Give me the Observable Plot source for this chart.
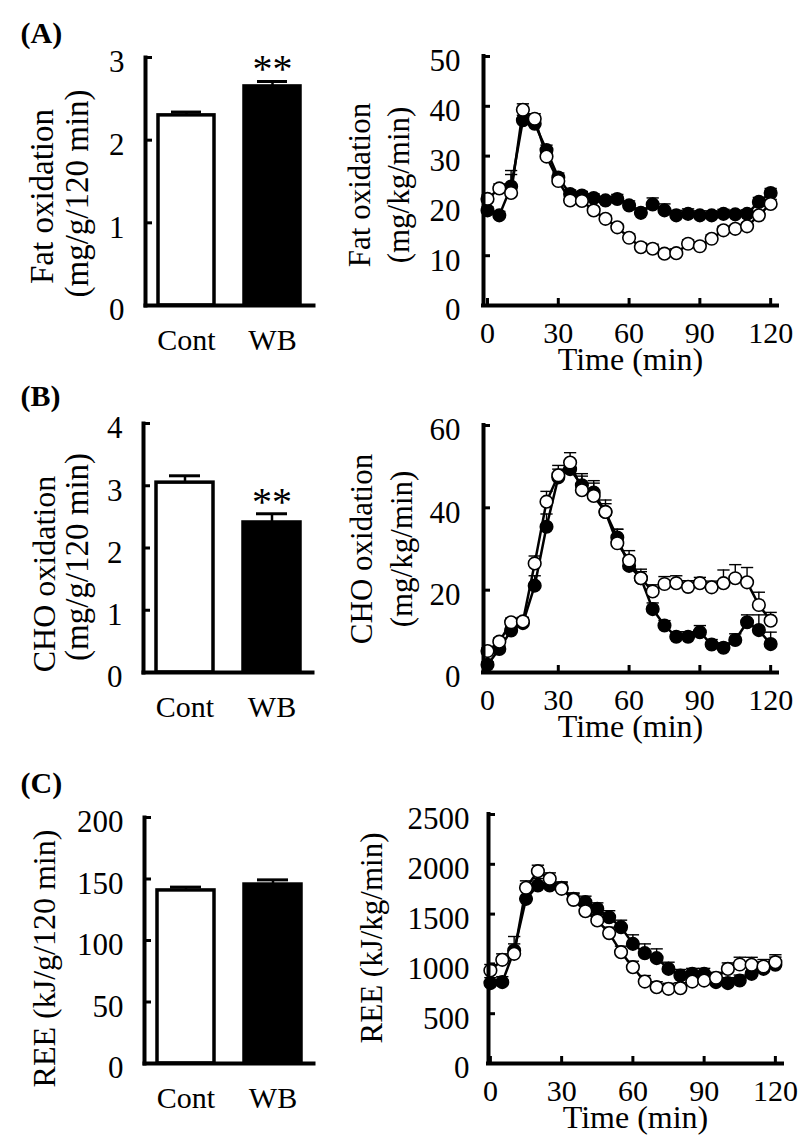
<!DOCTYPE html>
<html><head><meta charset="utf-8">
<script src="https://cdn.jsdelivr.net/npm/d3@7"></script>
<script src="https://cdn.jsdelivr.net/npm/@observablehq/plot@0.6"></script>
<style>
body{margin:0;background:#fff;}
#root{position:relative;width:800px;height:1143px;background:#fff;overflow:hidden;}
.cell{position:absolute;}
.cell svg{overflow:visible;}
</style></head><body><div id="root"></div>
<script>
// ---------- data ----------
const groups = ["Cont", "WB"];
const fatTotal = [2.30, 2.65];
const fatTotalSem = [0.04, 0.06];
const choTotal = [3.05, 2.41];
const choTotalSem = [0.11, 0.14];
const reeTotal = [140.7, 145.5];
const reeTotalSem = [2.7, 3.8];

const time = [0,5,10,15,20,25,30,35,40,45,50,55,60,65,70,75,80,85,90,95,100,105,110,115,120];
const timeTicks = [0, 30, 60, 90, 120];

const fatCont = [21.4,23.5,22.6,39.3,37.5,29.9,25.0,21.1,21.0,19.1,17.4,15.7,13.6,11.7,11.4,10.4,10.5,12.4,11.9,13.4,15.1,15.4,15.9,18.1,20.4];
const fatContSem = [0.8,0.9,3.7,1.2,1.0,0.9,0.8,0.7,0.7,0.7,0.7,0.7,0.8,0.8,0.9,0.9,0.9,0.8,0.8,0.8,0.8,0.7,0.7,0.8,0.9];
const fatWB = [19.1,18.1,23.9,37.2,36.5,31.2,25.7,22.4,22.1,21.6,21.1,21.4,20.1,18.6,20.3,19.1,18.1,18.4,18.1,18.1,18.4,18.3,18.4,20.8,22.6];
const fatWBSem = [0.7,0.8,3.2,1.0,1.0,1.0,0.9,0.8,0.8,0.8,0.8,0.9,0.9,1.0,1.3,1.3,1.0,1.0,0.9,0.9,0.9,0.8,0.8,0.9,0.9];

const choCont = [5.2,7.5,12.2,12.4,26.5,41.5,47.9,51.0,44.3,42.9,39.0,31.4,27.2,22.9,19.7,21.5,21.7,20.8,21.7,20.7,21.7,22.9,21.9,16.4,12.6];
const choContSem = [0.8,0.9,1.0,1.0,1.8,2.5,2.4,2.4,4.0,3.7,2.9,3.4,2.4,2.2,1.6,1.8,1.8,1.5,1.4,1.5,3.2,3.3,3.6,3.1,2.0];
const choWB = [1.9,5.7,10.2,12.0,21.1,35.4,47.4,49.4,45.5,43.7,39.0,32.8,25.9,22.9,15.4,11.4,8.7,8.7,9.8,6.8,6.0,7.9,12.2,10.3,6.9];
const choWBSem = [0.7,0.8,1.0,1.0,2.4,3.1,2.0,2.0,2.2,2.3,2.0,2.0,1.8,1.6,1.5,1.2,1.2,1.2,1.6,1.2,1.2,1.5,1.8,3.7,2.9];

const reeCont = [934,1041,1101,1764,1931,1854,1754,1643,1529,1436,1309,1118,967,823,766,750,756,823,833,860,950,994,991,974,1017];
const reeContSem = [60,60,100,70,60,60,60,60,60,60,60,60,60,60,55,55,55,55,55,55,60,73,75,70,75];
const reeWB = [807,817,1134,1653,1787,1787,1764,1653,1620,1553,1469,1369,1201,1108,1058,950,884,900,900,817,807,833,900,950,991];
const reeWBSem = [55,55,141,150,70,60,60,60,60,60,65,70,91,93,93,67,60,55,55,55,55,55,60,70,77];

const fatTotalTicks = [0, 1, 2, 3];
const choTotalTicks = [0, 1, 2, 3, 4];
const reeTotalTicks = [0, 50, 100, 150, 200];
const fatRateTicks = [0, 10, 20, 30, 40, 50];
const choRateTicks = [0, 20, 40, 60];
const reeRateTicks = [0, 500, 1000, 1500, 2000, 2500];

// ---------- helpers ----------
const FONT = '"Liberation Serif", "Times New Roman", serif';
const fmt = d => String(d);
const root = document.getElementById("root");
function place(svg, left, top) {
  const d = document.createElement("div");
  d.className = "cell";
  d.style.left = left + "px";
  d.style.top = top + "px";
  d.appendChild(svg);
  root.appendChild(d);
}
function vLabel(l) {
  return Plot.text([l.text], {frameAnchor: "left", rotate: -90, dx: l.dx, dy: l.dy, fontSize: l.size, textAnchor: "middle", lineAnchor: "middle"});
}

function barPlot(c) {
  const data = groups.map((g, i) => ({g, v: c.values[i], e: c.sems[i]}));
  const marks = [
    Plot.ruleX(data, {x: "g", y1: "v", y2: d => d.v + d.e, strokeWidth: 2.5}),
    Plot.tickY(data, {x: "g", y: d => d.v + d.e, strokeWidth: 3, insetLeft: 13, insetRight: 13}),
    Plot.barY([data[0]], {x: "g", y: "v", fill: "white", stroke: "black", strokeWidth: 3.5}),
    Plot.barY([data[1]], {x: "g", y: "v", fill: "black", stroke: "black", strokeWidth: 3.5}),
    Plot.frame({anchor: "left", strokeWidth: 4, strokeLinecap: "square"}),
    Plot.frame({anchor: "bottom", strokeWidth: 4, strokeLinecap: "square"}),
    Plot.axisY({ticks: c.ticks, tickSize: -7, fill: "none", strokeWidth: 3, label: null}),
    Plot.axisY({ticks: c.ticks, tickFormat: fmt, tickSize: 0, tickPadding: 21, dy: 5, label: null, fontSize: 31}),
    Plot.axisX({tickSize: 0, tickPadding: 23, label: null, fontSize: 30}),
    Plot.text([c.letter], {frameAnchor: "top-left", dx: c.letterDx, dy: c.letterDy, textAnchor: "start", lineAnchor: "middle", fontWeight: "bold", fontSize: 30})
  ];
  c.labels.forEach(l => marks.push(vLabel(l)));
  if (c.stars) marks.push(Plot.text([data[1]], {x: "g", y: d => d.v + d.e, text: () => "**", dy: -12, fontSize: 40, lineAnchor: "middle"}));
  return Plot.plot({
    width: 330, height: c.height,
    marginLeft: c.ml, marginRight: c.mr, marginTop: c.mt, marginBottom: c.mb,
    style: {fontFamily: FONT, fontSize: "30px", background: "transparent", color: "black", overflow: "visible"},
    x: {domain: groups, paddingInner: 0.345, paddingOuter: 0.14},
    y: {domain: c.yDomain},
    marks
  });
}

function linePlot(c) {
  const cont = time.map((t, i) => ({t, v: c.cont[i], e: c.contSem[i]}));
  const wb = time.map((t, i) => ({t, v: c.wb[i], e: c.wbSem[i]}));
  const all = wb.concat(cont);
  const marks = [
    Plot.ruleX(all, {x: "t", y1: "v", y2: d => d.v + d.e, strokeWidth: 1.4}),
    Plot.link(all, {x1: d => d.t - 2.6, x2: d => d.t + 2.6, y1: d => d.v + d.e, y2: d => d.v + d.e, strokeWidth: 1.4}),
    Plot.line(wb, {x: "t", y: "v", strokeWidth: 2.5}),
    Plot.dot(wb, {x: "t", y: "v", r: 6.3, fill: "black", stroke: "black", strokeWidth: 1.5}),
    Plot.line(cont, {x: "t", y: "v", strokeWidth: 2.5}),
    Plot.dot(cont, {x: "t", y: "v", r: 6.3, fill: "white", stroke: "black", strokeWidth: 1.6}),
    Plot.ruleX([c.xDomain[0]], {strokeWidth: 4, strokeLinecap: "square"}),
    Plot.ruleY([c.yDomain[0]], {strokeWidth: 4, strokeLinecap: "square"}),
    Plot.axisY({ticks: c.yTicks, tickSize: -7, fill: "none", strokeWidth: 3, label: null}),
    Plot.axisY({ticks: c.yTicks, tickFormat: fmt, tickSize: 0, tickPadding: c.yPad, dy: 5, label: null, fontSize: 31}),
    Plot.axisX({ticks: timeTicks, tickSize: -7, fill: "none", strokeWidth: 3, label: null}),
    Plot.axisX({ticks: timeTicks, tickFormat: fmt, tickSize: 0, tickPadding: 16, label: null, fontSize: 30}),
    Plot.text(["Time (min)"], {frameAnchor: "bottom", dy: 54, fontSize: 32, textAnchor: "middle", lineAnchor: "middle"})
  ];
  c.labels.forEach(l => marks.push(vLabel(l)));
  return Plot.plot({
    width: 470, height: c.height,
    marginLeft: c.ml, marginRight: c.mr, marginTop: c.mt, marginBottom: c.mb,
    style: {fontFamily: FONT, fontSize: "30px", background: "transparent", color: "black", overflow: "visible"},
    x: {domain: c.xDomain},
    y: {domain: c.yDomain},
    marks
  });
}

// ---------- panel A ----------
place(barPlot({
  values: fatTotal, sems: fatTotalSem, yDomain: [0, 3], ticks: fatTotalTicks,
  height: 380, ml: 145, mr: 17, mt: 57, mb: 75, stars: true,
  letter: "(A)", letterDx: -125, letterDy: -24,
  labels: [
    {text: "Fat oxidation", dx: -103, dy: 15, size: 33},
    {text: "(mg/g/120 min)", dx: -68, dy: 12, size: 33}
  ]
}), 0, 0);
place(linePlot({
  cont: fatCont, contSem: fatContSem, wb: fatWB, wbSem: fatWBSem,
  xDomain: [-1.7, 122.9], yDomain: [0, 50], yTicks: fatRateTicks, yPad: 23,
  height: 380, ml: 153, mr: 23, mt: 56, mb: 75,
  labels: [
    {text: "Fat oxidation", dx: -123, dy: 4, size: 31},
    {text: "(mg/kg/min)", dx: -84, dy: 4, size: 31}
  ]
}), 330, 0);

// ---------- panel B ----------
place(barPlot({
  values: choTotal, sems: choTotalSem, yDomain: [0, 4], ticks: choTotalTicks,
  height: 380, ml: 143, mr: 18, mt: 43, mb: 88, stars: true,
  letter: "(B)", letterDx: -123, letterDy: -27,
  labels: [
    {text: "CHO oxidation", dx: -99, dy: 26, size: 32},
    {text: "(mg/g/120 min)", dx: -66, dy: 9, size: 33}
  ]
}), 0, 380);
place(linePlot({
  cont: choCont, contSem: choContSem, wb: choWB, wbSem: choWBSem,
  xDomain: [-1.7, 122.9], yDomain: [0, 60], yTicks: choRateTicks, yPad: 23,
  height: 380, ml: 153, mr: 23, mt: 45, mb: 88,
  labels: [
    {text: "CHO oxidation", dx: -121, dy: 0, size: 31},
    {text: "(mg/kg/min)", dx: -81, dy: 0, size: 31}
  ]
}), 330, 380);

// ---------- panel C ----------
place(barPlot({
  values: reeTotal, sems: reeTotalSem, yDomain: [0, 200], ticks: reeTotalTicks,
  height: 383, ml: 144, mr: 17, mt: 57, mb: 80, stars: false,
  letter: "(C)", letterDx: -124, letterDy: -34,
  labels: [
    {text: "REE (kJ/g/120 min)", dx: -100, dy: 18, size: 32}
  ]
}), 0, 760);
place(linePlot({
  cont: reeCont, contSem: reeContSem, wb: reeWB, wbSem: reeWBSem,
  xDomain: [-0.8, 123], yDomain: [0, 2500], yTicks: reeRateTicks, yPad: 19,
  height: 383, ml: 158, mr: 18, mt: 54, mb: 80,
  labels: [
    {text: "REE (kJ/kg/min)", dx: -116, dy: -1, size: 31}
  ]
}), 330, 760);
</script></body></html>
